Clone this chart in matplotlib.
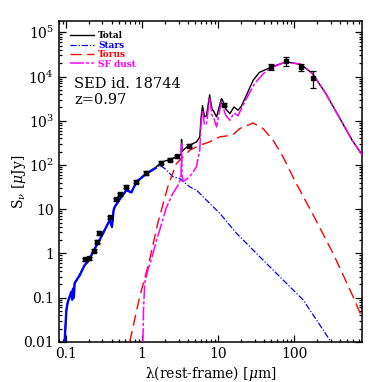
import numpy as np
import matplotlib
matplotlib.use("Agg")
import matplotlib.pyplot as plt
from matplotlib.ticker import FixedLocator, FixedFormatter, LogLocator, NullFormatter

plt.rcParams["font.family"] = ["DejaVu Serif"]
plt.rcParams["mathtext.fontset"] = "dejavuserif"

# observed photometry (rest-frame um, uJy)
obs_wl = [0.175, 0.200, 0.232, 0.252, 0.270, 0.374, 0.458, 0.511, 0.607, 0.821,
          1.11, 1.79, 2.30, 2.87, 4.09, 11.9, 50.1, 78.9, 122, 174]
obs_flux = [0.74, 0.78, 1.15, 1.84, 2.89, 6.6, 16.6, 21.6, 32.0, 41.6,
            66.4, 113, 133, 156, 275, 2320, 16400, 22400, 16400, 9440]
obs_err = [0.06, 0.06, 0.09, 0.15, 0.25, 0.55, 1.4, 1.8, 2.6, 3.4,
           5.5, 9, 11, 13, 22, 200, 2500, 5000, 3000, 4000]

# stellar component
stars_wl = [0.0956, 0.1006, 0.105, 0.111, 0.117, 0.120, 0.123, 0.126, 0.129, 0.151,
            0.175, 0.200, 0.225, 0.27, 0.305, 0.374, 0.40, 0.42, 0.435, 0.52,
            0.62, 0.72, 0.84, 1.14, 1.50, 1.70, 1.98, 2.30, 2.54, 3.11,
            4.22, 5.17, 6.31, 7.0, 10.5, 17.4, 26.0, 31.8, 64.4, 131, 293]
stars_flux = [0.011, 0.053, 0.08, 0.105, 0.136, 0.09, 0.16, 0.10, 0.211, 0.325,
              0.547, 0.70, 1.09, 1.9, 2.84, 5.68, 4.0, 9.5, 11.3, 18,
              27, 24, 41.6, 64.3, 85, 99, 83, 64.3, 53.9, 49.5,
              32, 27, 19.1, 16.0, 8.04, 2.84, 1.42, 1.00, 0.298, 0.0887, 0.011]

# AGN torus component
torus_wl = [0.685, 0.927, 1.25, 1.6, 2.2, 2.82, 4.22, 5.71, 7.73, 9.0,
            10.5, 13.5, 15.5, 19.2, 28.7, 38.8, 52.6, 71.2, 101, 177,
            324, 594, 780]
torus_flux = [0.01, 0.105, 0.709, 4.8, 35, 108, 216, 280, 332, 390,
              431, 460, 480, 667, 892, 667, 363, 152, 45, 7.4,
              1.0, 0.105, 0.035]

# star-forming dust component
sf_wl = [1.02, 1.04, 1.08, 1.20, 1.35, 1.54, 1.70, 2.08, 2.54, 2.96,
         3.15, 3.24, 3.29, 3.34, 3.45, 4.22, 5.17, 5.71, 5.95, 6.2,
         6.6, 7.0, 7.7, 8.3, 8.6, 9.5, 11.0, 11.3, 12.2, 12.7,
         14.2, 16.1, 18.2, 19.2, 23.5, 30.0, 39.0, 50, 78, 122,
         174, 260, 387, 577, 780]
sf_flux = [0.01, 0.053, 0.22, 0.45, 0.84, 2.0, 3.4, 11, 23, 35,
           45, 60, 300, 60, 42, 54, 91, 216, 900, 1750,
           800, 850, 3300, 1300, 1250, 725, 2700, 2500, 1500, 1300,
           1025, 1500, 1300, 1580, 3170, 6920, 11600, 15900, 21500, 18800,
           11600, 4110, 1220, 363, 170]

# total model
total_wl = [0.0956, 0.1006, 0.105, 0.111, 0.117, 0.120, 0.123, 0.126, 0.129, 0.151,
            0.175, 0.200, 0.225, 0.27, 0.305, 0.374, 0.40, 0.42, 0.435, 0.52,
            0.62, 0.72, 0.84, 1.14, 1.50, 1.79, 2.30, 2.87, 3.15, 3.24,
            3.29, 3.34, 3.45, 4.09, 5.17, 5.71, 5.95, 6.2, 6.6, 7.0,
            7.7, 8.3, 8.6, 9.5, 11.0, 11.3, 12.2, 12.7, 14.2, 16.1,
            18.2, 20.0, 23.5, 28.7, 34.7, 50, 78, 122, 174, 260,
            387, 577, 780]
total_flux = [0.011, 0.053, 0.08, 0.105, 0.136, 0.09, 0.16, 0.10, 0.211, 0.325,
              0.547, 0.70, 1.09, 1.9, 2.84, 5.68, 4.0, 9.5, 11.3, 18,
              27, 24, 41.6, 64.3, 88, 116, 133, 156, 166, 175,
              380, 200, 216, 275, 332, 431, 1200, 2200, 1220, 1300,
              3860, 1800, 1700, 1220, 3170, 3000, 2050, 1800, 1455, 2050,
              1730, 2100, 3800, 8200, 12400, 16400, 21500, 18800, 11600, 4110,
              1220, 363, 170]

ytick_vals = [0.01, 0.1, 1, 10, 100, 1e3, 1e4, 1e5]
ytick_labels = ["0.01", "0.1", "1", "10", r"10$^2$", r"10$^3$", r"10$^4$", r"10$^5$"]
xtick_vals = [0.1, 1, 10, 100]
xtick_labels = ["0.1", "1", "10", "100"]

fig = plt.figure(figsize=(3.82, 3.82), dpi=100)
ax = fig.add_axes([0.154, 0.105, 0.794, 0.840])

ax.plot(total_wl, total_flux, color="black", lw=1.0, label="Total", zorder=3)
# dense UV/optical part of the stellar spectrum looks like a thick solid line
uv = [i for i, w in enumerate(stars_wl) if w <= 1.5]
ax.plot([stars_wl[i] for i in uv], [stars_flux[i] for i in uv], color="blue", lw=1.7, zorder=4)
ax.plot(stars_wl, stars_flux, color="blue", lw=0.9, dashes=(5, 1.5, 1, 1.5), label="Stars", zorder=4)
ax.plot(torus_wl, torus_flux, color="red", lw=1.0, dashes=(8, 4), label="Torus", zorder=4)
ax.plot(sf_wl, sf_flux, color="magenta", lw=1.1, dashes=(9, 1.5, 2, 1.5), label="SF dust", zorder=5)
ax.errorbar(obs_wl, obs_flux, yerr=obs_err, fmt="s", color="black", ms=3.5,
            elinewidth=0.9, capsize=2, capthick=0.9, zorder=6)

ax.set_xscale("log")
ax.set_yscale("log")
ax.set_xlim(0.08, 780)
ax.set_ylim(0.01, 1.8e5)

ax.yaxis.set_major_locator(FixedLocator(ytick_vals))
ax.yaxis.set_major_formatter(FixedFormatter(ytick_labels))
ax.xaxis.set_major_locator(FixedLocator(xtick_vals))
ax.xaxis.set_major_formatter(FixedFormatter(xtick_labels))
ax.xaxis.set_minor_locator(LogLocator(base=10, subs=np.arange(2, 10)))
ax.yaxis.set_minor_locator(LogLocator(base=10, subs=np.arange(2, 10)))
ax.xaxis.set_minor_formatter(NullFormatter())
ax.yaxis.set_minor_formatter(NullFormatter())
ax.tick_params(which="both", direction="in", top=True, right=True, labelsize=10, width=0.9)
ax.tick_params(which="major", length=5)
ax.tick_params(which="minor", length=2.5)
for s in ax.spines.values():
    s.set_linewidth(1.1)

ax.set_xlabel(r"λ(rest-frame) [$\mu$m]", fontsize=10, labelpad=2)
ax.set_ylabel(r"S$_\nu$ [$\mu$Jy]", fontsize=10)
ax.yaxis.set_label_coords(-0.10, 0.5)

leg = ax.legend(loc="upper left", bbox_to_anchor=(0.02, 0.985), frameon=False,
                handlelength=2.6, handletextpad=0.5, labelspacing=0.05,
                borderaxespad=0.2, labelcolor="linecolor",
                prop={"weight": "bold", "size": 6.5})

ax.text(0.05, 0.79, "SED id. 18744", transform=ax.transAxes, fontsize=10.5)
ax.text(0.05, 0.74, "z=0.97", transform=ax.transAxes, fontsize=10.5)

fig.savefig("out.png", dpi=100)
